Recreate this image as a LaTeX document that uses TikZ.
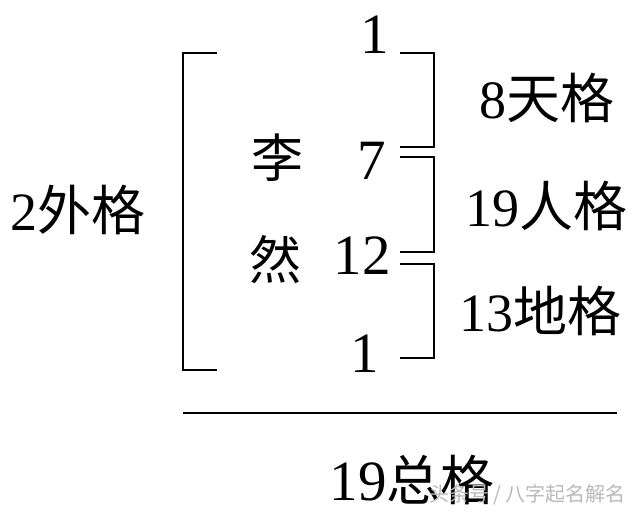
\documentclass[tikz,border=0pt]{standalone}
\usepackage{fontspec}
\setmainfont{Liberation Serif}
\newfontfamily\cjk{Noto Sans CJK SC}
\begin{document}
\begin{tikzpicture}[x=1pt,y=-1pt,
  br/.style={line width=2.6pt,line cap=butt,line join=miter},
  num/.style={font=\fontsize{57}{57}\selectfont,inner sep=0pt},
  han/.style={font=\fontsize{52}{52}\selectfont\cjk,inner sep=0pt},
  lab/.style={font=\fontsize{54}{54}\selectfont,inner sep=0pt},
  wm/.style={font=\fontsize{20}{20}\selectfont\cjk,inner sep=0pt,text=gray!55}]
\useasboundingbox[fill=white] (0,0) rectangle (640,521);
% left bracket
\coordinate (L1) at (217,53);
\coordinate (L2) at (183,53);
\coordinate (L3) at (183,370);
\coordinate (L4) at (217,370);
\draw[br] (L1) -- (L2) -- (L3) -- (L4);
% right brackets
\coordinate (a1) at (400,53);  \coordinate (a2) at (434,53);
\coordinate (a3) at (434,147); \coordinate (a4) at (400,147);
\draw[br] (a1) -- (a2) -- (a3) -- (a4);
\coordinate (b1) at (400,157); \coordinate (b2) at (434,157);
\coordinate (b3) at (434,252); \coordinate (b4) at (400,252);
\draw[br] (b1) -- (b2) -- (b3) -- (b4);
\coordinate (c1) at (400,264); \coordinate (c2) at (434,264);
\coordinate (c3) at (434,358); \coordinate (c4) at (400,358);
\draw[br] (c1) -- (c2) -- (c3) -- (c4);
% numbers
\node[num] (n1) at (375,35) {1};
\node[num] (n7) at (372,161) {7};
\node[num] (n12) at (362,256) {12};
\node[num] (n1b) at (365,354) {1};
% name
\node[han] (li) at (277,158) {李};
\node[han] (ran) at (275,260) {然};
% labels
\node[lab] (tian) at (547,98) {8{\cjk 天格}};
\node[lab] (ren) at (546,206) {19{\cjk 人格}};
\node[lab] (di) at (540,311) {13{\cjk 地格}};
\node[lab] (wai) at (78,210) {2{\cjk 外格}};
% total line
\coordinate (t1) at (183,413);
\coordinate (t2) at (617,413);
\draw[br] (t1) -- (t2);
\node[num] (zong) at (412,480) {19{\fontsize{54}{54}\selectfont\cjk 总格}};
% watermark
\node[wm,anchor=east] (mark) at (626,495) {头条号 / 八字起名解名};
\end{tikzpicture}
\end{document}
